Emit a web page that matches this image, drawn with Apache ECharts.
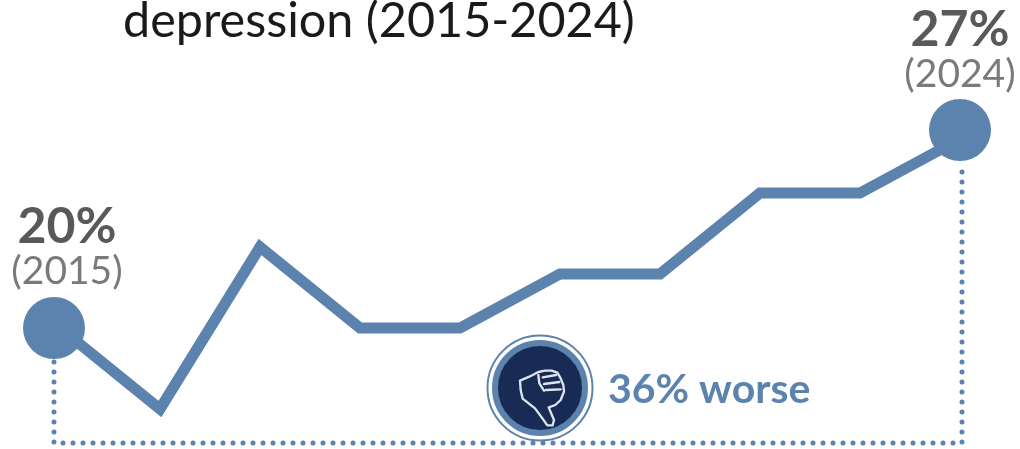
<!DOCTYPE html>
<html>
<head>
<meta charset="utf-8">
<style>
   html, body { margin: 0; padding: 0; background: #fff; }
   #chart { width: 1020px; height: 449px; }
</style>
<script src="https://cdn.jsdelivr.net/npm/echarts@6/dist/echarts.min.js"></script>
</head>
<body>
<div id="chart"></div>
<script>
const titleText = 'depression (2015-2024)';
const years = ['2015', '2016', '2017', '2018', '2019', '2020', '2021', '2022', '2023', '2024'];
const rates = [20, 17, 23, 20, 20, 22, 22, 25, 25, 27];
const changeText = '36% worse';

const blue = '#5b83ae';
const navy = '#172b54';
const iconLine = '#dfe5ee';
const lastIndex = years.length - 1;

const chart = echarts.init(document.getElementById('chart'), null, { renderer: 'canvas' });

// 两端的圆点和文字
function endPoint(value, year, symbolOffset, labelOffset) {
   return {
      value,
      symbol: 'circle',
      symbolSize: 62,
      symbolOffset,
      itemStyle: { color: blue },
      label: {
         show: true,
         position: 'top',
         distance: 0,
         offset: labelOffset,
         formatter: `{pct|${value}%}\n{year|(${year})}`,
         rich: {
            pct: { fontFamily: 'Lato', fontSize: 50, fontWeight: 'bold', color: '#595959', lineHeight: 46, align: 'center' },
            year: { fontFamily: 'Lato', fontSize: 39, color: '#7a7a7a', lineHeight: 42, align: 'center' },
         },
      },
   };
}

const seriesData = rates.map((value, i) => {
   if (i === 0) return endPoint(value, years[i], [-6, 0], [13, -5]);
   if (i === lastIndex) return endPoint(value, years[i], [0, -9], [0, -4]);
   return { value, symbol: 'none' };
});

// 手势图标的线条，坐标按放大图描的
const thumbLines = [
   [[150, 182], [178, 170], [205, 156], [225, 152], [245, 152], [262, 158], [272, 175], [280, 195], [282, 215], [272, 240], [256, 255], [236, 262], [252, 300], [248, 316], [232, 316], [215, 292], [195, 265], [158, 236], [152, 210], [150, 182]],
   [[205, 165], [208, 190], [222, 212]],
   [[218, 172], [258, 165]],
   [[222, 192], [268, 186]],
   [[228, 210], [272, 208]],
];

chart.setOption({
   animation: false,
   title: {
      text: titleText,
      left: 118,
      top: -8,
      textStyle: { fontFamily: 'Lato', fontSize: 48.5, fontWeight: 'normal', color: '#1a1a1a' },
   },
   grid: { left: 60, right: 60, top: 112, height: 324 },
   xAxis: { type: 'category', data: years, boundaryGap: false, show: false },
   yAxis: { type: 'value', min: 16, max: 28, show: false },
   series: [
      {
         type: 'line',
         data: seriesData,
         showSymbol: true,
         lineStyle: { color: blue, width: 11, join: 'miter' },
         z: 3,
      },
   ],
   graphic: [
      // 虚线框
      {
         type: 'polyline',
         z: 1,
         shape: { points: [[54, 362], [54, 443], [962, 443], [962, 164]] },
         style: { stroke: blue, lineWidth: 5, lineDash: [0, 10], lineCap: 'round', fill: null },
      },
      { type: 'circle', z: 4, shape: { cx: 540, cy: 388, r: 52.5 }, style: { fill: '#fff', stroke: blue, lineWidth: 2 } },
      { type: 'circle', z: 4, shape: { cx: 540, cy: 388, r: 45 }, style: { fill: navy, stroke: blue, lineWidth: 6 } },
      {
         type: 'group',
         z: 5,
         x: 470,
         y: 320,
         scaleX: 1 / 3,
         scaleY: 1 / 3,
         children: thumbLines.map((points) => ({
            type: 'polyline',
            z: 5,
            shape: { points },
            style: { stroke: iconLine, lineWidth: 7, lineJoin: 'round', lineCap: 'round', fill: null },
         })),
      },
      {
         type: 'text',
         z: 5,
         x: 608,
         y: 390,
         style: {
            text: changeText,
            fontFamily: 'Lato',
            fontSize: 41,
            fontWeight: 'bold',
            fill: blue,
            textVerticalAlign: 'middle',
         },
      },
   ],
});
</script>
</body>
</html>
